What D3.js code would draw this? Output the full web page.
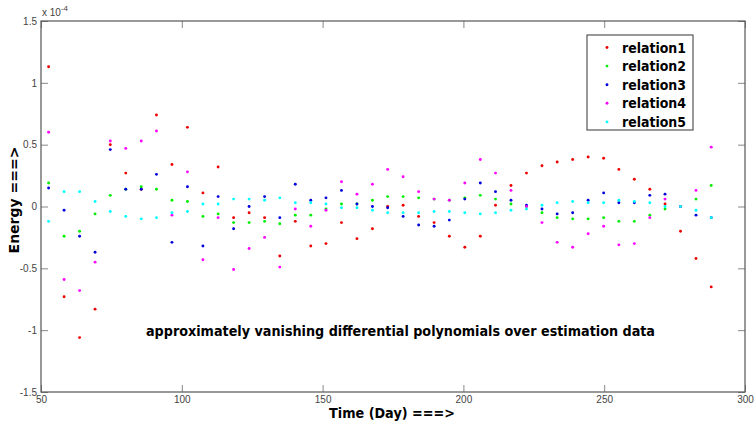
<!DOCTYPE html>
<html>
<head>
<meta charset="utf-8">
<script src="https://cdnjs.cloudflare.com/ajax/libs/d3/7.8.5/d3.min.js"></script>
<style>
body { margin: 0; background: #fff; }
</style>
</head>
<body>
<div id="canvas"></div>
<script>
// days of the estimation data
const days = [52.7, 58.2, 63.7, 69.2, 74.6, 80.1, 85.6, 91.0, 96.5, 102.0,
    107.5, 112.9, 118.4, 123.9, 129.4, 134.8, 140.3, 145.8, 151.2, 156.7,
    162.2, 167.7, 173.1, 178.6, 184.1, 189.6, 195.0, 200.5, 206.0, 211.4,
    216.9, 222.4, 227.9, 233.3, 238.8, 244.3, 249.8, 255.2, 260.7, 266.2,
    271.6, 277.1, 282.6, 288.0];

// energy values, in units of 1e-4
const relation1 = [1.13, -0.73, -1.06, -0.83, 0.50, 0.27, 0.14, 0.74, 0.34, 0.64,
    0.11, 0.32, -0.09, -0.05, -0.09, -0.40, -0.12, -0.32, -0.30, -0.13,
    -0.26, -0.18, 0.00, 0.01, -0.08, -0.13, -0.24, -0.33, -0.24, 0.01,
    0.17, 0.27, 0.33, 0.36, 0.38, 0.40, 0.39, 0.30, 0.22, 0.14,
    0.02, -0.20, -0.42, -0.65];
const relation2 = [0.19, -0.24, -0.20, -0.06, 0.09, 0.14, 0.16, 0.14, 0.05, 0.04,
    -0.08, -0.06, -0.13, -0.13, -0.12, -0.14, -0.07, -0.07, -0.02, 0.02,
    0.02, 0.05, 0.08, 0.08, 0.07, 0.06, 0.05, 0.07, 0.09, 0.06,
    0.02, 0.00, -0.05, -0.09, -0.10, -0.10, -0.09, -0.12, -0.12, -0.07,
    -0.02, 0.00, 0.06, 0.17];
const relation3 = [0.15, -0.03, -0.24, -0.37, 0.46, 0.14, 0.14, 0.26, -0.29, 0.16,
    -0.32, 0.08, -0.18, 0.00, 0.08, -0.09, 0.18, 0.05, 0.07, 0.13,
    0.02, 0.00, -0.01, -0.08, -0.15, -0.16, -0.11, 0.06, 0.19, 0.12,
    0.05, 0.01, -0.02, -0.06, -0.05, 0.05, 0.11, 0.03, 0.03, 0.09,
    0.10, 0.00, -0.07, -0.09];
const relation4 = [0.60, -0.59, -0.68, -0.45, 0.53, 0.47, 0.53, 0.61, -0.07, 0.28,
    -0.43, -0.09, -0.51, -0.34, -0.25, -0.49, -0.02, -0.16, -0.03, 0.20,
    0.10, 0.18, 0.30, 0.24, 0.12, 0.06, 0.05, 0.19, 0.38, 0.27,
    0.13, 0.00, -0.13, -0.29, -0.33, -0.22, -0.16, -0.31, -0.30, -0.09,
    0.06, 0.00, 0.13, 0.48];
const relation5 = [-0.12, 0.12, 0.12, 0.04, -0.04, -0.08, -0.10, -0.09, -0.05, -0.04,
    0.02, 0.02, 0.06, 0.06, 0.05, 0.07, 0.03, 0.03, 0.02, -0.01,
    -0.01, -0.03, -0.05, -0.05, -0.05, -0.04, -0.04, -0.05, -0.06, -0.05,
    -0.03, -0.02, 0.01, 0.03, 0.04, 0.03, 0.03, 0.05, 0.04, 0.03,
    0.00, 0.00, -0.03, -0.09];

const seriesNames = ["relation1", "relation2", "relation3", "relation4", "relation5"];
const seriesValues = [relation1, relation2, relation3, relation4, relation5];
const seriesColors = ["#ee0000", "#00ee00", "#0000dd", "#ff00ff", "#00ffff"];
const xTicks = [50, 100, 150, 200, 250, 300];
const yTicks = [-1.5, -1, -0.5, 0, 0.5, 1, 1.5];

const width = 755;
const height = 423;
const margin = { top: 21, left: 41, bottom: 31, right: 10 };
const iwidth = width - margin.left - margin.right;
const iheight = height - margin.top - margin.bottom;

const svg = d3.select("#canvas").append("svg")
    .attr("width", width)
    .attr("height", height)
    .style("font-family", "'Liberation Sans', Arial, sans-serif");

const g = svg.append("g").attr("transform", `translate(${margin.left},${margin.top})`);

const x = d3.scaleLinear().domain([50, 300]).range([0, iwidth]);
const y = d3.scaleLinear().domain([-1.5, 1.5]).range([iheight, 0]);

const tickLen = 7;
const axisColor = "#555";

// axes with inward ticks on all four sides
g.append("g")
    .attr("transform", `translate(0,${iheight})`)
    .call(d3.axisBottom(x).tickValues(xTicks).tickSizeInner(-tickLen).tickSizeOuter(0).tickPadding(4))
    .call(a => a.select(".domain").remove());
g.append("g")
    .call(d3.axisTop(x).tickValues(xTicks).tickSizeInner(-tickLen).tickSizeOuter(0).tickFormat(""))
    .call(a => a.select(".domain").remove());
g.append("g")
    .call(d3.axisLeft(y).tickValues(yTicks).tickSizeInner(-tickLen).tickSizeOuter(0).tickPadding(4).tickFormat(d => d))
    .call(a => a.select(".domain").remove());
g.append("g")
    .attr("transform", `translate(${iwidth},0)`)
    .call(d3.axisRight(y).tickValues(yTicks).tickSizeInner(-tickLen).tickSizeOuter(0).tickFormat(""))
    .call(a => a.select(".domain").remove());

g.selectAll(".tick line").attr("stroke", "#888");
g.selectAll(".tick text")
    .attr("fill", "#444")
    .style("font-size", "10px")
    .style("font-family", "'Liberation Sans', Arial, sans-serif");

// box
g.append("rect")
    .attr("x", 0).attr("y", 0)
    .attr("width", iwidth).attr("height", iheight)
    .attr("fill", "none")
    .attr("stroke", axisColor)
    .attr("stroke-width", 1.2);

// exponent label
const expo = svg.append("text")
    .attr("x", margin.left + 1)
    .attr("y", 16)
    .attr("fill", "#444")
    .style("font-size", "10px");
expo.append("tspan").text("x 10");
expo.append("tspan").attr("dy", -5).style("font-size", "8px").text("-4");

// points
seriesValues.forEach((vals, i) => {
    g.append("g").selectAll("circle")
        .data(vals)
        .enter().append("circle")
        .attr("cx", (d, j) => x(days[j]))
        .attr("cy", d => y(d))
        .attr("r", 1.45)
        .attr("fill", seriesColors[i]);
});

// annotation
g.append("text")
    .attr("x", 146 - margin.left)
    .attr("y", 336 - margin.top)
    .attr("textLength", 509)
    .attr("lengthAdjust", "spacingAndGlyphs")
    .style("font-family", "'DejaVu Sans', Verdana, sans-serif")
    .style("font-weight", "bold")
    .style("font-size", "13.5px")
    .text("approximately vanishing differential polynomials over estimation data");

// axis labels
svg.append("text")
    .attr("x", 329)
    .attr("y", 418)
    .attr("textLength", 126)
    .attr("lengthAdjust", "spacingAndGlyphs")
    .style("font-family", "'DejaVu Sans', Verdana, sans-serif")
    .style("font-weight", "bold")
    .style("font-size", "14.5px")
    .text("Time (Day) ===>");

svg.append("text")
    .attr("transform", "translate(19,200) rotate(-90)")
    .attr("text-anchor", "middle")
    .style("font-family", "'DejaVu Sans', Verdana, sans-serif")
    .style("font-weight", "bold")
    .style("font-size", "14px")
    .text("Energy ===>");

// legend
const legend = svg.append("g").attr("transform", "translate(587,35)");
legend.append("rect")
    .attr("width", 106).attr("height", 95)
    .attr("fill", "#fff")
    .attr("stroke", axisColor)
    .attr("stroke-width", 1.2);
seriesNames.forEach((name, i) => {
    const row = legend.append("g").attr("transform", `translate(0,${12.5 + i * 18.6})`);
    row.append("circle").attr("cx", 20).attr("cy", 0).attr("r", 1.45).attr("fill", seriesColors[i]);
    row.append("text")
        .attr("x", 35)
        .attr("y", 5)
        .attr("textLength", 64)
        .attr("lengthAdjust", "spacingAndGlyphs")
        .style("font-family", "'DejaVu Sans', Verdana, sans-serif")
        .style("font-weight", "bold")
        .style("font-size", "13.5px")
        .text(name);
});
</script>
</body>
</html>
